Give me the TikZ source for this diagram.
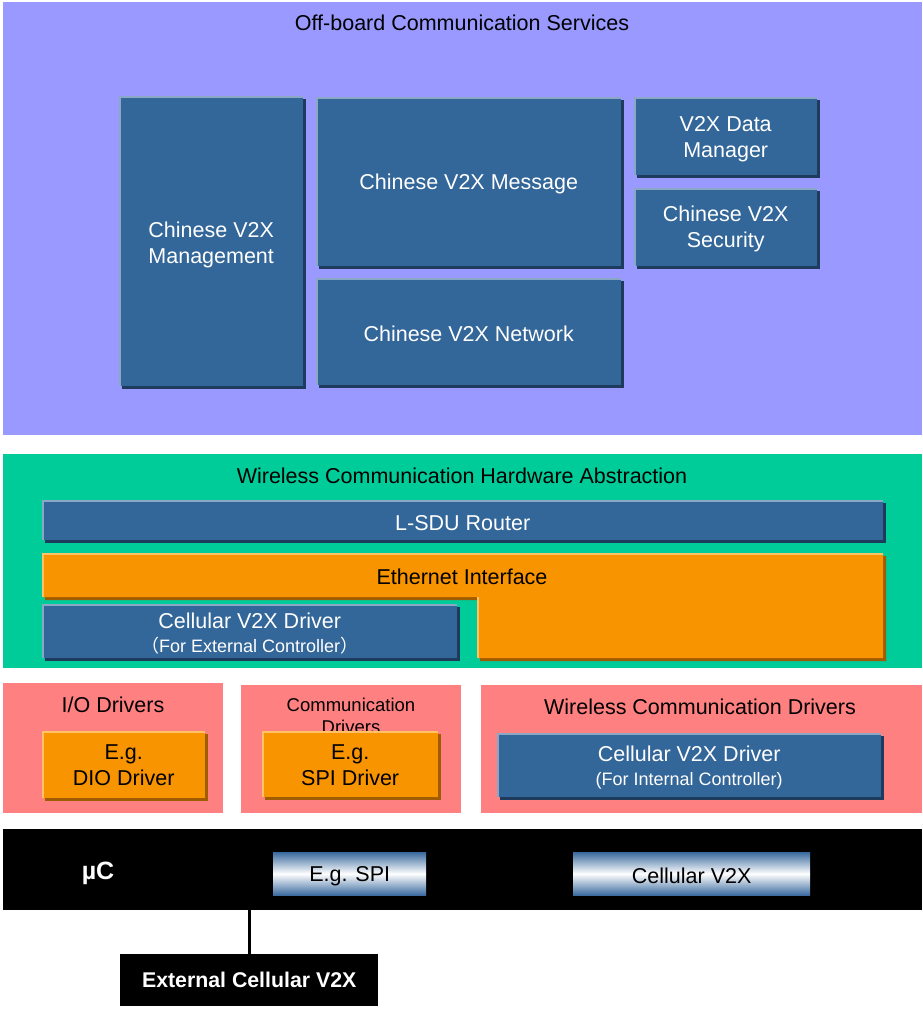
\documentclass[tikz,border=0pt]{standalone}
\usepackage{fontspec}
\setmainfont{Liberation Sans}
\newfontfamily\cjk{Noto Sans CJK SC}
\usetikzlibrary{shadows}
\definecolor{purpleBg}{HTML}{9999FF}
\definecolor{greenBg}{HTML}{00CC99}
\definecolor{pinkBg}{HTML}{FF8080}
\definecolor{boxBlue}{HTML}{336699}
\definecolor{boxBlueLight}{HTML}{8AA8C6}
\definecolor{boxBlueDark}{HTML}{1E3A5C}
\definecolor{boxOrange}{HTML}{F79400}
\definecolor{boxOrangeLight}{HTML}{FFC266}
\definecolor{boxOrangeDark}{HTML}{A05C00}
\definecolor{gradBlue}{HTML}{3A6A9E}
\newcommand\twoline[2][3pt]{\raisebox{-#1}[\height][\depth]{\begin{tabular}{@{}c@{}}#2\end{tabular}}}
\tikzset{
  region/.style={draw=none, inner sep=0pt, anchor=north west},
  raised/.style={inner sep=0pt, anchor=north west, align=center,
    general shadow={fill=#1Dark, shadow xshift=3pt, shadow yshift=-3pt},
    fill=#1,
    path picture={\draw[#1Light, line width=3.5pt]
      (path picture bounding box.south west) -- (path picture bounding box.north west)
      -- (path picture bounding box.north east);}},
  bluebox/.style={raised=boxBlue, text=white, font=\fontsize{21.5}{26}\selectfont},
  lift/.style={execute at begin node={\rule{0pt}{#1}}},
  orangebox/.style={raised=boxOrange, text=black, font=\fontsize{21.5}{26}\selectfont},
  gradbox/.style={inner sep=0pt, anchor=north west, top color=gradBlue, bottom color=gradBlue,
    middle color=white, text=black, font=\fontsize{21.5}{26}\selectfont},
  title/.style={text=black, font=\fontsize{21.5}{26}\selectfont, inner sep=0pt},
}
\begin{document}
\begin{tikzpicture}[x=1pt, y=-1pt]
\useasboundingbox (0,0) rectangle (923,1009);
\fill[white] (0,0) rectangle (923,1009);
% regions
\node[region, fill=purpleBg, minimum width=919pt, minimum height=433pt] (offboard) at (3,2) {};
\node[region, fill=greenBg, minimum width=919pt, minimum height=214pt] (wcha) at (3,454) {};
\node[region, fill=pinkBg, minimum width=220pt, minimum height=130pt] (io) at (3,683) {};
\node[region, fill=pinkBg, minimum width=220pt, minimum height=128pt] (comm) at (241,685) {};
\node[region, fill=pinkBg, minimum width=441pt, minimum height=128pt] (wcd) at (481,685) {};
\node[region, fill=black, minimum width=919pt, minimum height=81pt] (uc) at (3,829) {};
% titles
\node[title] (offboardT) at (462,23) {Off-board Communication Services};
\node[title] (wchaT) at (462,476) {Wireless Communication Hardware Abstraction};
\node[title] (ioT) at (113,705) {I/O Drivers};
\node[title, font=\fontsize{18.5}{22}\selectfont, align=center] (commT) at (351,716) {Communication\\Drivers};
\node[title] (wcdT) at (700,707) {Wireless Communication Drivers};
% off-board boxes
\node[bluebox, minimum width=184pt, minimum height=290pt] (mgmt) at (119,96) {\twoline[4pt]{Chinese V2X\\Management}};
\node[bluebox, lift=21pt, minimum width=305pt, minimum height=169pt] (msg) at (316,97) {Chinese V2X Message};
\node[bluebox, lift=19pt, minimum width=305pt, minimum height=107pt] (net) at (316,278) {Chinese V2X Network};
\node[bluebox, minimum width=183pt, minimum height=78pt] (dm) at (634,97) {\twoline[3pt]{V2X Data\\Manager}};
\node[bluebox, minimum width=183pt, minimum height=78pt] (sec) at (634,188) {\twoline[2pt]{Chinese V2X\\Security}};
% hardware abstraction
\node[bluebox, lift=21pt, minimum width=841pt, minimum height=40pt] (router) at (42,500) {L-SDU Router};
\fill[boxOrangeDark] (45,556) -- (886,556) -- (886,661) -- (480,661) -- (480,600) -- (45,600) -- cycle;
\fill[boxOrange] (42,553) -- (883,553) -- (883,658) -- (477,658) -- (477,597) -- (42,597) -- cycle;
\draw[boxOrangeLight, line width=1.8pt] (42.9,597) -- (42.9,553.9) -- (883,553.9);
\draw[boxOrangeLight, line width=1.8pt] (477.9,597) -- (477.9,658);
\node[title] (eth) at (462,577) {Ethernet Interface};
\node[bluebox, minimum width=415pt, minimum height=54pt, font=\fontsize{21.5}{24}\selectfont] (cdrvExt) at (42,604)
  {\twoline[4.5pt]{Cellular V2X Driver\\{\fontsize{18}{20}\selectfont{\cjk（}For External Controller{\cjk）}}}};
% drivers
\node[orangebox, minimum width=163pt, minimum height=67pt] (dio) at (42,731) {\twoline[3pt]{E.g.\\DIO Driver}};
\node[orangebox, minimum width=176pt, minimum height=66pt] (spi) at (262,731) {\twoline[3.5pt]{E.g.\\SPI Driver}};
\node[bluebox, minimum width=384pt, minimum height=64pt, font=\fontsize{21.5}{24}\selectfont] (cdrvInt) at (497,733)
  {\twoline[3pt]{Cellular V2X Driver\\{\fontsize{18}{20}\selectfont(For Internal Controller)}}};
% microcontroller
\node[text=white, font=\bfseries\fontsize{25}{28}\selectfont, inner sep=0pt] (ucT) at (98,873) {µC};
\node[gradbox, lift=21pt, minimum width=153pt, minimum height=43pt] (spiHw) at (273,852) {E.g. SPI};
\node[gradbox, lift=19pt, minimum width=237pt, minimum height=43pt] (c2x) at (573,852) {Cellular V2X};
\node[region, fill=black, text=white, font=\bfseries\fontsize{21.3}{24}\selectfont, minimum width=258pt, minimum height=52pt] (ext) at (120,954) {External Cellular V2X};
\draw[black, line width=3pt] (ext.north) -- (ext.north |- uc.south);
\end{tikzpicture}
\end{document}
